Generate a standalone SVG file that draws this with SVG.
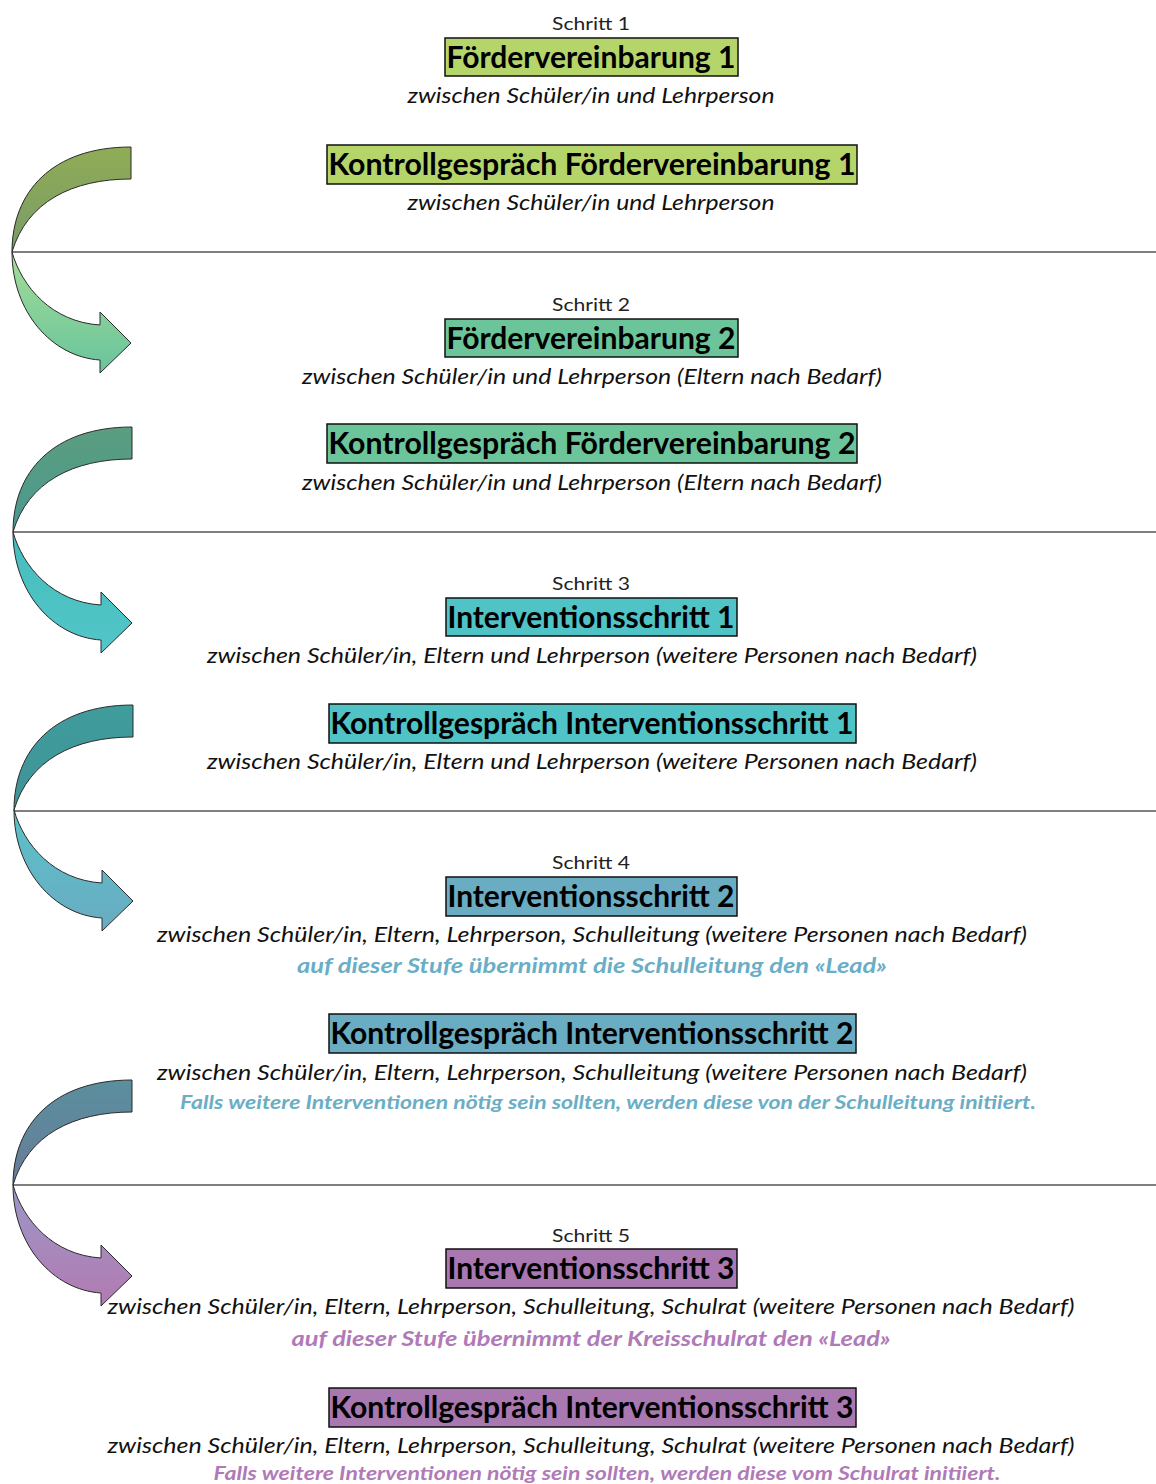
<svg xmlns="http://www.w3.org/2000/svg" width="1156" height="1484" viewBox="0 0 1156 1484">
<style>
.step{font-family:Lato,"Open Sans","Liberation Sans",sans-serif;font-size:18px;fill:#222;text-anchor:middle}
.title{font-family:Lato,"Open Sans","Liberation Sans",sans-serif;font-size:30px;font-weight:bold;fill:#000;text-anchor:middle}
.desc{font-family:Lato,"Open Sans","Liberation Sans",sans-serif;font-size:21px;font-style:italic;fill:#111;text-anchor:middle}
.lead{font-family:Lato,"Open Sans","Liberation Sans",sans-serif;font-size:21px;font-style:italic;font-weight:bold;text-anchor:middle}
.small{font-size:19px}
.box{stroke:#111;stroke-width:1.5}
.arrow{stroke:#2a2a2a;stroke-width:1}
.sep{stroke:#000;stroke-width:1.2}
</style>
<defs>
<linearGradient id="u1" x1="0" y1="0" x2="0" y2="1"><stop offset="0" stop-color="#90ac55"/><stop offset="1" stop-color="#789c68"/></linearGradient>
<linearGradient id="l1" x1="0" y1="0" x2="0" y2="1"><stop offset="0" stop-color="#a4dc98"/><stop offset="1" stop-color="#68c49c"/></linearGradient>
<linearGradient id="u2" x1="0" y1="0" x2="0" y2="1"><stop offset="0" stop-color="#5b9e7f"/><stop offset="1" stop-color="#4a9890"/></linearGradient>
<linearGradient id="l2" x1="0" y1="0" x2="0" y2="1"><stop offset="0" stop-color="#46bcbc"/><stop offset="1" stop-color="#52c6c8"/></linearGradient>
<linearGradient id="u3" x1="0" y1="0" x2="0" y2="1"><stop offset="0" stop-color="#3f9d9c"/><stop offset="1" stop-color="#3f9398"/></linearGradient>
<linearGradient id="l3" x1="0" y1="0" x2="0" y2="1"><stop offset="0" stop-color="#5ac2c8"/><stop offset="1" stop-color="#6aabc2"/></linearGradient>
<linearGradient id="u4" x1="0" y1="0" x2="0" y2="1"><stop offset="0" stop-color="#5a8f9e"/><stop offset="1" stop-color="#687c98"/></linearGradient>
<linearGradient id="l4" x1="0" y1="0" x2="0" y2="1"><stop offset="0" stop-color="#9c98c6"/><stop offset="1" stop-color="#b27ab2"/></linearGradient>
<path id="upper" d="M0,0 C0,-60 40,-105 119,-105 L119,-73 C60,-73 15,-50 0,0 Z"/>
<path id="lower" d="M0,0 C10,35 40,70 88,73 L88,60 L119,91 L88,121 L88,108 C40,105 0,60 0,0 Z"/>
</defs>

<g id="connectors">
  <line class="sep" x1="12" y1="252" x2="1156" y2="252"/>
  <line class="sep" x1="13" y1="532" x2="1156" y2="532"/>
  <line class="sep" x1="14" y1="811" x2="1156" y2="811"/>
  <line class="sep" x1="13" y1="1185" x2="1156" y2="1185"/>
  <g id="arrow1" transform="translate(12,252)">
    <use href="#upper" class="arrow" fill="url(#u1)"/>
    <use href="#lower" class="arrow" fill="url(#l1)"/>
  </g>
  <g id="arrow2" transform="translate(13,532)">
    <use href="#upper" class="arrow" fill="url(#u2)"/>
    <use href="#lower" class="arrow" fill="url(#l2)"/>
  </g>
  <g id="arrow3" transform="translate(14,810)">
    <use href="#upper" class="arrow" fill="url(#u3)"/>
    <use href="#lower" class="arrow" fill="url(#l3)"/>
  </g>
  <g id="arrow4" transform="translate(13,1185)">
    <use href="#upper" class="arrow" fill="url(#u4)"/>
    <use href="#lower" class="arrow" fill="url(#l4)"/>
  </g>
</g>

<g id="step1">
  <text class="step" x="591" y="30" textLength="78" lengthAdjust="spacingAndGlyphs">Schritt 1</text>
  <rect class="box" x="445" y="38" width="293" height="38" fill="#b5d56a"/>
  <text class="title" x="591" y="68" textLength="289" lengthAdjust="spacingAndGlyphs">Fördervereinbarung 1</text>
  <text class="desc" x="591" y="103" textLength="367" lengthAdjust="spacingAndGlyphs">zwischen Schüler/in und Lehrperson</text>
</g>
<g id="control1">
  <rect class="box" x="327" y="145" width="530" height="39" fill="#b5d56a"/>
  <text class="title" x="592" y="175" textLength="527" lengthAdjust="spacingAndGlyphs">Kontrollgespräch Fördervereinbarung 1</text>
  <text class="desc" x="591" y="210" textLength="367" lengthAdjust="spacingAndGlyphs">zwischen Schüler/in und Lehrperson</text>
</g>

<g id="step2">
  <text class="step" x="591" y="311" textLength="78" lengthAdjust="spacingAndGlyphs">Schritt 2</text>
  <rect class="box" x="445" y="319" width="293" height="38" fill="#6cc59a"/>
  <text class="title" x="591" y="349" textLength="289" lengthAdjust="spacingAndGlyphs">Fördervereinbarung 2</text>
  <text class="desc" x="592" y="384" textLength="580" lengthAdjust="spacingAndGlyphs">zwischen Schüler/in und Lehrperson (Eltern nach Bedarf)</text>
</g>
<g id="control2">
  <rect class="box" x="327" y="424" width="530" height="39" fill="#6cc59a"/>
  <text class="title" x="592" y="454" textLength="527" lengthAdjust="spacingAndGlyphs">Kontrollgespräch Fördervereinbarung 2</text>
  <text class="desc" x="592" y="490" textLength="580" lengthAdjust="spacingAndGlyphs">zwischen Schüler/in und Lehrperson (Eltern nach Bedarf)</text>
</g>

<g id="step3">
  <text class="step" x="591" y="590" textLength="78" lengthAdjust="spacingAndGlyphs">Schritt 3</text>
  <rect class="box" x="446" y="598" width="291" height="38" fill="#4fc3c6"/>
  <text class="title" x="591" y="628" textLength="287" lengthAdjust="spacingAndGlyphs">Interventionsschritt 1</text>
  <text class="desc" x="592" y="663" textLength="770" lengthAdjust="spacingAndGlyphs">zwischen Schüler/in, Eltern und Lehrperson (weitere Personen nach Bedarf)</text>
</g>
<g id="control3">
  <rect class="box" x="329" y="704" width="527" height="39" fill="#4fc3c6"/>
  <text class="title" x="592" y="734" textLength="523" lengthAdjust="spacingAndGlyphs">Kontrollgespräch Interventionsschritt 1</text>
  <text class="desc" x="592" y="769" textLength="770" lengthAdjust="spacingAndGlyphs">zwischen Schüler/in, Eltern und Lehrperson (weitere Personen nach Bedarf)</text>
</g>

<g id="step4">
  <text class="step" x="591" y="869" textLength="78" lengthAdjust="spacingAndGlyphs">Schritt 4</text>
  <rect class="box" x="446" y="877" width="291" height="39" fill="#6aacc1"/>
  <text class="title" x="591" y="907" textLength="287" lengthAdjust="spacingAndGlyphs">Interventionsschritt 2</text>
  <text class="desc" x="592" y="942" textLength="870" lengthAdjust="spacingAndGlyphs">zwischen Schüler/in, Eltern, Lehrperson, Schulleitung (weitere Personen nach Bedarf)</text>
  <text class="lead" x="592" y="973" fill="#6aaec6" textLength="590" lengthAdjust="spacingAndGlyphs">auf dieser Stufe übernimmt die Schulleitung den «Lead»</text>
</g>
<g id="control4">
  <rect class="box" x="329" y="1014" width="527" height="39" fill="#6aacc1"/>
  <text class="title" x="592" y="1044" textLength="523" lengthAdjust="spacingAndGlyphs">Kontrollgespräch Interventionsschritt 2</text>
  <text class="desc" x="592" y="1080" textLength="870" lengthAdjust="spacingAndGlyphs">zwischen Schüler/in, Eltern, Lehrperson, Schulleitung (weitere Personen nach Bedarf)</text>
  <text class="lead small" x="608" y="1109" fill="#6aaec6" textLength="856" lengthAdjust="spacingAndGlyphs">Falls weitere Interventionen nötig sein sollten, werden diese von der Schulleitung initiiert.</text>
</g>

<g id="step5">
  <text class="step" x="591" y="1242" textLength="78" lengthAdjust="spacingAndGlyphs">Schritt 5</text>
  <rect class="box" x="446" y="1249" width="291" height="39" fill="#a978b0"/>
  <text class="title" x="591" y="1279" textLength="287" lengthAdjust="spacingAndGlyphs">Interventionsschritt 3</text>
  <text class="desc" x="591" y="1314" textLength="967" lengthAdjust="spacingAndGlyphs">zwischen Schüler/in, Eltern, Lehrperson, Schulleitung, Schulrat (weitere Personen nach Bedarf)</text>
  <text class="lead" x="591" y="1346" fill="#b07ab8" textLength="599" lengthAdjust="spacingAndGlyphs">auf dieser Stufe übernimmt der Kreisschulrat den «Lead»</text>
</g>
<g id="control5">
  <rect class="box" x="329" y="1388" width="527" height="39" fill="#a978b0"/>
  <text class="title" x="592" y="1418" textLength="523" lengthAdjust="spacingAndGlyphs">Kontrollgespräch Interventionsschritt 3</text>
  <text class="desc" x="591" y="1453" textLength="967" lengthAdjust="spacingAndGlyphs">zwischen Schüler/in, Eltern, Lehrperson, Schulleitung, Schulrat (weitere Personen nach Bedarf)</text>
  <text class="lead small" x="607" y="1480" fill="#b07ab8" textLength="787" lengthAdjust="spacingAndGlyphs">Falls weitere Interventionen nötig sein sollten, werden diese vom Schulrat initiiert.</text>
</g>
</svg>
